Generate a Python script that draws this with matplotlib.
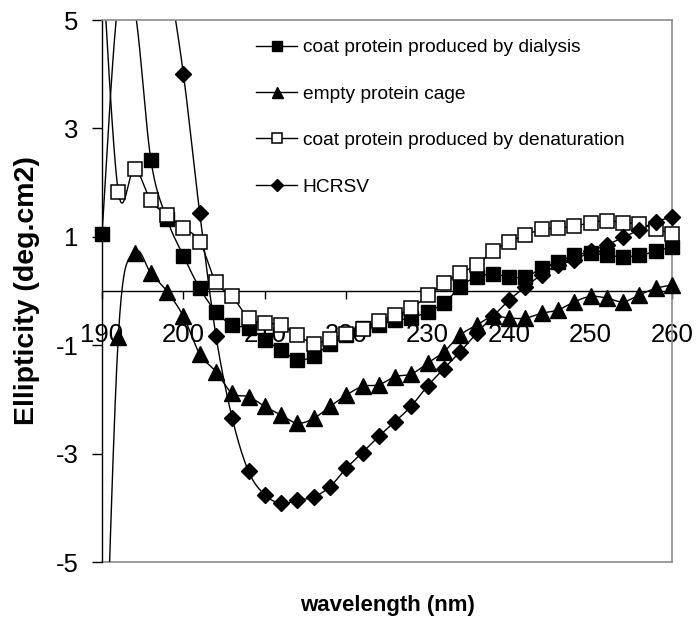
import matplotlib
matplotlib.use("Agg")
import matplotlib.pyplot as plt
from matplotlib.lines import Line2D
import numpy as np

plt.rcParams["font.family"] = ["Liberation Sans", "DejaVu Sans"]
plt.rcParams["axes.unicode_minus"] = False

# CD spectra, ellipticity per wavelength (nm)
wavelength = [190, 192, 194, 196, 198, 200, 202, 204, 206, 208, 210, 212,
              214, 216, 218, 220, 222, 224, 226, 228, 230, 232, 234, 236,
              238, 240, 242, 244, 246, 248, 250, 252, 254, 256, 258, 260]

dialysis = [1.05, 5.35, 5.2, 2.42, 1.32, 0.65, 0.05, -0.38, -0.63, -0.68,
            -0.90, -1.09, -1.27, -1.20, -0.97, -0.81, -0.69, -0.63, -0.54,
            -0.50, -0.38, -0.23, 0.08, 0.26, 0.31, 0.26, 0.26, 0.42, 0.54,
            0.66, 0.70, 0.66, 0.63, 0.66, 0.73, 0.82]

empty_cage = [-9.5, -0.85, 0.70, 0.33, -0.01, -0.47, -1.16, -1.49, -1.89,
              -1.95, -2.13, -2.29, -2.44, -2.35, -2.13, -1.92, -1.76, -1.73,
              -1.58, -1.53, -1.33, -1.12, -0.81, -0.63, -0.47, -0.50, -0.50,
              -0.41, -0.35, -0.20, -0.10, -0.13, -0.20, -0.07, 0.05, 0.11]

denaturation = [6.2, 1.83, 2.26, 1.67, 1.40, 1.17, 0.91, 0.16, -0.10, -0.50,
                -0.59, -0.63, -0.81, -0.97, -0.88, -0.80, -0.70, -0.55, -0.45,
                -0.32, -0.08, 0.14, 0.33, 0.48, 0.73, 0.91, 1.03, 1.14, 1.16,
                1.20, 1.26, 1.30, 1.26, 1.24, 1.14, 1.06]

hcrsv = [None, None, None, None, 6.0, 4.0, 1.44, -0.83, -2.35, -3.33, -3.76,
         -3.92, -3.86, -3.80, -3.61, -3.27, -2.98, -2.68, -2.41, -2.12, -1.75,
         -1.43, -1.12, -0.78, -0.47, -0.17, 0.08, 0.30, 0.48, 0.57, 0.73,
         0.85, 0.99, 1.13, 1.28, 1.36]

labels = ["coat protein produced by dialysis", "empty protein cage",
          "coat protein produced by denaturation", "HCRSV"]

x_ticks = [190, 200, 210, 220, 230, 240, 250, 260]
y_ticks = [-5, -3, -1, 1, 3, 5]


def smooth(xs, ys, n=24):
    """Catmull-Rom style bezier through the points (spreadsheet 'smoothed line')."""
    pts = np.column_stack([xs, ys]).astype(float)
    ext = np.vstack([pts[0], pts, pts[-1]])
    t = np.linspace(0, 1, n)[:, None]
    out = []
    for i in range(len(pts) - 1):
        p0, p3 = ext[i + 1], ext[i + 2]
        c1 = p0 + (ext[i + 2] - ext[i]) / 6
        c2 = p3 - (ext[i + 3] - ext[i + 1]) / 6
        seg = ((1 - t) ** 3 * p0 + 3 * (1 - t) ** 2 * t * c1
               + 3 * (1 - t) * t ** 2 * c2 + t ** 3 * p3)
        out.append(seg if i == 0 else seg[1:])
    curve = np.vstack(out)
    return curve[:, 0], curve[:, 1]


styles = [
    dict(marker="s", ms=10.5, mfc="black", mec="black", mew=1.0),
    dict(marker="^", ms=11, mfc="black", mec="black", mew=1.0),
    dict(marker="s", ms=10, mfc="white", mec="black", mew=1.1),
    dict(marker="D", ms=7.8, mfc="black", mec="black", mew=1.0),
]

fig = plt.figure(figsize=(6.99, 6.28), dpi=100)
ax = fig.add_axes([102 / 699, 1 - 562 / 628, 570 / 699, 542 / 628])

for series, st in zip([dialysis, empty_cage, denaturation, hcrsv], styles):
    xs = np.array([w for w, v in zip(wavelength, series) if v is not None], float)
    ys = np.array([v for v in series if v is not None], float)
    cx, cy = smooth(xs, ys)
    ax.plot(cx, cy, color="black", lw=1.0, zorder=2)
    keep = (ys >= -5) & (ys <= 5)
    ax.plot(xs[keep], ys[keep], linestyle="none", clip_on=False, zorder=3, **st)

ax.set_xlim(190, 260)
ax.set_ylim(-5, 5)

# x axis crosses at zero, plot area framed in grey
ax.spines["bottom"].set_position(("data", 0))
ax.spines["bottom"].set_color("black")
ax.spines["bottom"].set_linewidth(1.0)
ax.spines["left"].set_color("black")
ax.spines["left"].set_linewidth(1.0)
for side in ("top", "right"):
    ax.spines[side].set_color("#8c8c8c")
    ax.spines[side].set_linewidth(1.2)
ax.plot([0, 1], [0, 0], transform=ax.transAxes, color="#8c8c8c", lw=1.2,
        clip_on=False, zorder=1)

ax.set_xticks(x_ticks)
ax.set_xticklabels([str(v) for v in x_ticks])
ax.set_yticks(y_ticks)
ax.set_yticklabels([str(v) for v in y_ticks])
ax.tick_params(axis="x", direction="out", length=6, width=1.0, pad=17,
               labelsize=18.5)
ax.tick_params(axis="y", direction="out", length=7, width=1.0, pad=10,
               labelsize=18.5)

ax.set_xlabel("wavelength (nm)", fontsize=16, fontweight="bold")
ax.xaxis.set_label_coords(0.5, (562 - 605) / 542)
ax.xaxis.label.set_va("center")
ax.set_ylabel("Ellipticity (deg.cm2)", fontsize=20.5, fontweight="bold")
ax.yaxis.set_label_coords((27 - 102) / 570, 0.5)
ax.yaxis.label.set_va("center")

handles = [Line2D([0], [0], color="black", lw=1.0,
                  **{**st, "ms": st["ms"] * 0.72}) for st in styles]
ax.legend(handles, labels, loc="upper left", frameon=False,
          bbox_to_anchor=(256 / 699, 1 - 39 / 628),
          bbox_transform=fig.transFigure, fontsize=13.75, handlelength=2.15,
          handletextpad=0.3, labelspacing=1.52, borderpad=0, borderaxespad=0)

fig.savefig("out.png", dpi=100)
